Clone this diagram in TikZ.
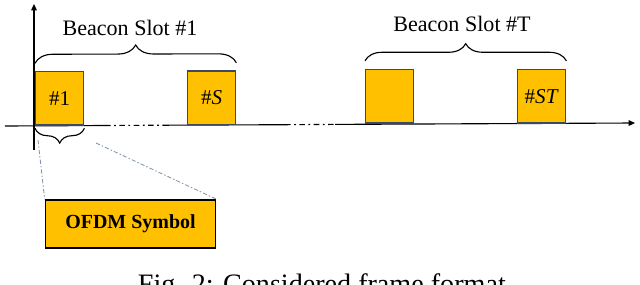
\documentclass[tikz,border=0pt]{standalone}
\usepackage{fontspec}
\setmainfont{Liberation Serif}
\usetikzlibrary{arrows.meta,decorations.pathreplacing,positioning}
\definecolor{Gold}{HTML}{FFC000}
\definecolor{Edge}{HTML}{3B4A60}
\definecolor{Guide}{HTML}{7F93AA}

\begin{document}
\begin{tikzpicture}[x=.025cm,y=-.025cm,
    slot/.style={draw=Edge,line width=1pt,fill=Gold,minimum width=1.2cm,minimum height=1.33cm,inner sep=0pt,anchor=south west,font=\fontsize{15}{17}\selectfont},
    brc/.style={decorate,decoration={brace,amplitude=#1},thick},
    guide/.style={Guide,dash pattern=on 3pt off 1.5pt on 1pt off 1.5pt,semithick},
    gap/.style={thick,dash pattern=on 4pt off 2.5pt on 1.2pt off 2.5pt},
    lbl/.style={anchor=base,font=\fontsize{15.7}{18}\selectfont}]
  \useasboundingbox(0,0)rectangle(640,284);
  \draw[thick,-{Triangle[length=4.5pt,width=4pt]}](34,150)--(34,4);
  \draw[thick](5,126)--(105,125.5);
  \draw[gap](105,125.5)--(165,125.2);
  \draw[thick](165,125.2)--(285,124.7);
  \draw[gap](285,124.7)--(335,124.4);
  \draw[thick,-{Triangle[length=4.5pt,width=4pt]}](335,124.4)--(635,123);
  \node[slot](b1)at(35,125.5){\#1};
  \node[slot](bS)at(187,125){\#\textit{S}};
  \node[slot](t1)at(365,123.5){};
  \node[slot](tS)at(517,123.5){\#\textit{ST}};
  \draw[brc=.45cm]([yshift=.19cm]b1.north west)--([yshift=.19cm]bS.north east);
  \draw[brc=.43cm]([yshift=.2cm]t1.north west)--([yshift=.2cm]tS.north east);
  \node[lbl](l1)at(130,35){Beacon Slot \#1};
  \node[lbl](lT)at(462,31){Beacon Slot \#T};
  \draw[brc=.37cm,decoration={mirror}]([yshift=-.07cm]b1.south west)--([yshift=-.07cm]b1.south east);
  \node[draw,line width=1.2pt,fill=Gold,minimum width=4.25cm,minimum height=1.2cm,font=\fontsize{14.2}{16}\selectfont\bfseries](ofdm)at(130.5,224){OFDM Symbol};
  \coordinate(g1)at(38,140);
  \coordinate(g2)at(96,143);
  \draw[guide](g1)--(ofdm.north west);
  \draw[guide](g2)--(ofdm.north east);
  \node[anchor=base west,font=\fontsize{20}{24}\selectfont](cap)at(133,293.5){Fig. 2: Considered frame format};
\end{tikzpicture}
\end{document}
